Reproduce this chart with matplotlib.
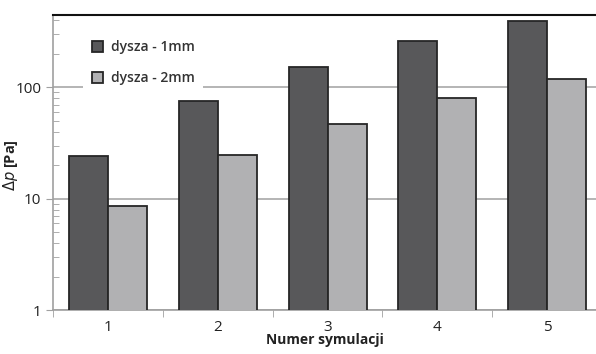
import numpy as np
import matplotlib.pyplot as plt
from matplotlib.ticker import LogLocator, NullFormatter

plt.rcParams['font.family'] = ['Open Sans', 'DejaVu Sans']

sim = ['1', '2', '3', '4', '5']
dp_1mm = [24.3, 76, 152, 260, 396]
dp_2mm = [8.65, 24.8, 47, 80, 120]
names = ['dysza - 1mm', 'dysza - 2mm']

fig = plt.figure(figsize=(5.96, 3.54), dpi=100)
ax = fig.add_axes([0.089, 0.124, 0.911, 0.834])

x = np.arange(len(sim))
w = 0.355
ax.bar(x - w/2, dp_1mm, w, color='#58585a', edgecolor='#262626', lw=1.3, label=names[0], zorder=3)
ax.bar(x + w/2, dp_2mm, w, color='#b1b1b3', edgecolor='#262626', lw=1.3, label=names[1], zorder=3)

ax.set_yscale('log')
ax.set_ylim(1, 448)
ax.set_xlim(-0.5, 4.445)

ax.set_yticks([1, 10, 100], ['1', '10', '100'])
ax.yaxis.set_minor_locator(LogLocator(base=10, subs=np.arange(2, 10)))
ax.yaxis.set_minor_formatter(NullFormatter())
ax.tick_params(axis='y', which='major', direction='out', length=5, color='#a0a0a0', labelsize=11, labelcolor='#222222')
ax.tick_params(axis='y', which='minor', direction='in', length=4, color='#a0a0a0')
ax.grid(axis='y', which='major', color='#a8a8a8', lw=1.2, zorder=0)

ax.set_xticks(x, sim)
ax.set_xticks(np.arange(-0.5, 4.5, 1), minor=True)
ax.tick_params(axis='x', which='major', length=0, labelsize=11, labelcolor='#222222', pad=7)
ax.tick_params(axis='x', which='minor', direction='out', length=5, color='#a0a0a0')

for s in ['left', 'bottom']:
    ax.spines[s].set_color('#a0a0a0')
    ax.spines[s].set_linewidth(1.2)
ax.spines['right'].set_visible(False)
ax.spines['top'].set_color('#111111')
ax.spines['top'].set_linewidth(1.5)

ax.set_xlabel('Numer symulacji', fontsize=10, fontweight='bold', color='#222222', labelpad=-1)
ax.set_ylabel('$\\mathit{\\Delta p}$ [Pa]', fontsize=10.5, fontweight='bold', color='#222222')
ax.yaxis.set_label_coords(-0.06, 0.49)

leg = ax.legend(loc='upper left', bbox_to_anchor=(0.043, 0.965), frameon=True, fancybox=False,
                edgecolor='none', facecolor='white', framealpha=1, fontsize=10,
                handlelength=0.8, handleheight=0.8, labelspacing=1.2, handletextpad=0.6,
                borderpad=0.6)
leg.set_zorder(5)
for t in leg.get_texts():
    t.set_color('#333333')
    t.set_fontweight('semibold')

fig.savefig('out.png', dpi=100)
